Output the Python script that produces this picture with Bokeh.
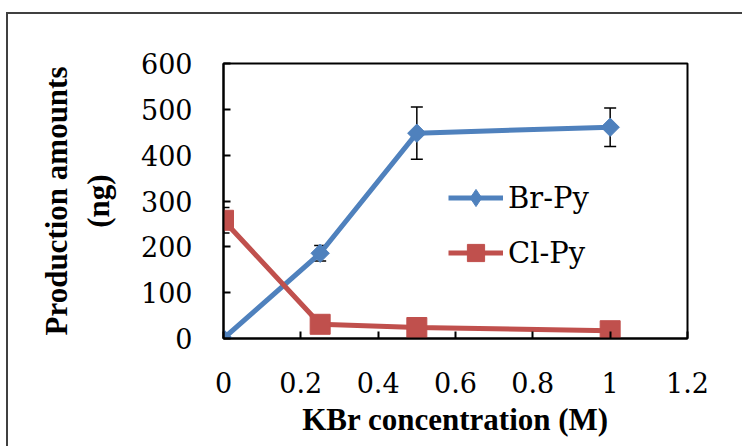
from bokeh.plotting import figure
from bokeh.models import (ColumnDataSource, Range1d, FixedTicker, Whisker, TeeHead,
                          Legend, LegendItem, NumeralTickFormatter)
from bokeh.embed import file_html
from bokeh.resources import INLINE
import math

# ---- data ----
conc = [0, 0.25, 0.5, 1.0]
br_py = [0, 186, 448, 461]
br_err = [0, 17, 57, 42]
cl_py = [258, 31, 24, 17]
cl_err = [28, 0, 0, 0]
x_ticks = [0, 0.2, 0.4, 0.6, 0.8, 1.0, 1.2]
y_ticks = [0, 100, 200, 300, 400, 500, 600]

BLUE = "#4F81BD"
RED = "#C0504D"
TICK_FONT = "DejaVu Serif"
LABEL_FONT = "Liberation Serif"

p = figure(width=742, height=446, x_range=Range1d(0, 1.2), y_range=Range1d(0, 600),
           output_backend="svg", toolbar_location=None,
           min_border_left=223, min_border_right=55, min_border_top=63, min_border_bottom=108)
# outer chart-area border (top and left edges visible in the reference)
p.styles = {"background": "linear-gradient(#404040,#404040) 6px 12px / 736px 2px no-repeat, "
                          "linear-gradient(#404040,#404040) 6px 12px / 2px 434px no-repeat"}

p.xgrid.visible = False
p.ygrid.visible = False
p.outline_line_color = "black"
p.outline_line_width = 2
p.background_fill_color = "white"
p.border_fill_color = None

for ax in (p.xaxis[0], p.yaxis[0]):
    ax.axis_line_color = "black"
    ax.axis_line_width = 2
    ax.major_tick_in = 7
    ax.major_tick_out = 0
    ax.major_tick_line_width = 2
    ax.minor_tick_line_color = None
    ax.major_label_text_font = TICK_FONT
    ax.major_label_text_font_size = "27px"
    ax.major_label_text_color = "black"
    ax.axis_label_text_font = LABEL_FONT
    ax.axis_label_text_font_style = "bold"
    ax.axis_label_text_font_size = "31px"
    ax.axis_label_text_color = "black"

p.xaxis.ticker = FixedTicker(ticks=x_ticks)
p.yaxis.ticker = FixedTicker(ticks=y_ticks)
p.xaxis.formatter = NumeralTickFormatter(format="0.[0]")
p.xaxis.major_label_standoff = 33
p.yaxis.major_label_standoff = 31
p.xaxis.axis_label = "KBr concentration (M)"
p.xaxis.axis_label_standoff = 6
p.yaxis.axis_label = "Production amounts\n(ng)"
p.yaxis.axis_label_standoff = 22

# error bars
br_idx = [i for i in range(len(conc)) if br_err[i] > 0]
cl_idx = [i for i in range(len(conc)) if cl_err[i] > 0]
err_src = ColumnDataSource(data=dict(
    base=[conc[i] for i in br_idx] + [conc[i] for i in cl_idx],
    upper=[br_py[i] + br_err[i] for i in br_idx] + [cl_py[i] + cl_err[i] for i in cl_idx],
    lower=[br_py[i] - br_err[i] for i in br_idx] + [cl_py[i] - cl_err[i] for i in cl_idx],
))
w = Whisker(base="base", upper="upper", lower="lower", source=err_src, dimension="height",
            line_color="black", line_width=1.5,
            upper_head=TeeHead(size=12, line_color="black", line_width=1.5),
            lower_head=TeeHead(size=12, line_color="black", line_width=1.5))
w.level = "underlay"
p.add_layout(w)

br_line = p.line(conc, br_py, line_color=BLUE, line_width=5)
p.scatter(conc, br_py, marker="square", angle=math.pi / 4, size=13,
          fill_color=BLUE, line_color=BLUE)
cl_line = p.line(conc, cl_py, line_color=RED, line_width=5)
cl_pts = p.scatter(conc, cl_py, marker="square", size=20, fill_color=RED, line_color=RED)

# legend-only marker (hidden in the plot) so the legend shows a diamond,
# since the legend ignores a marker's rotation angle
br_leg = p.scatter(conc, br_py, marker="diamond", size=13, fill_color=BLUE, line_color=BLUE)
br_leg.visible = False

legend = Legend(items=[LegendItem(label="Br-Py", renderers=[br_line, br_leg]),
                       LegendItem(label="Cl-Py", renderers=[cl_line, cl_pts])],
                location=(225, 64), glyph_width=55, glyph_height=43, label_height=43,
                spacing=12, padding=0, margin=0, label_standoff=5,
                border_line_color=None, background_fill_alpha=0, click_policy="none",
                label_text_font=TICK_FONT, label_text_font_size="29px", label_text_color="black")
p.add_layout(legend)

open("out.html", "w").write(file_html(p, INLINE))
